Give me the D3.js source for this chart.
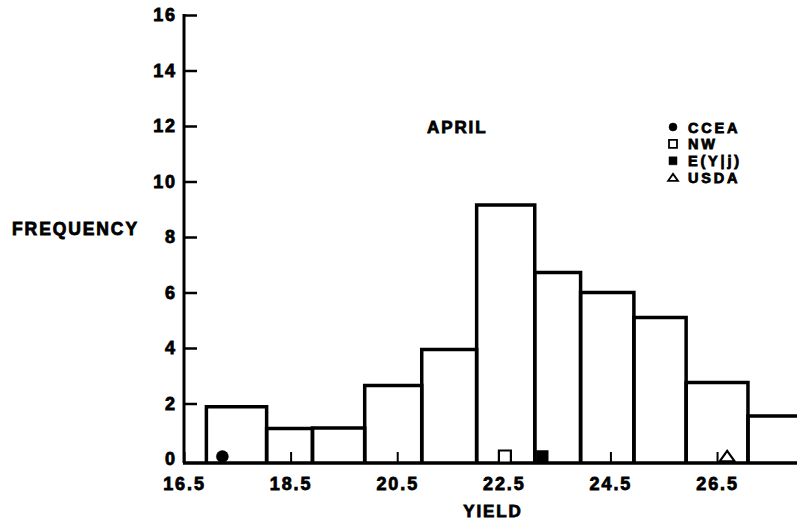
<!DOCTYPE html>
<html>
<head>
<meta charset="utf-8">
<script src="https://cdn.jsdelivr.net/npm/d3@7"></script>
<style>
  body { margin: 0; background: #fff; }
  svg text {
    font-family: 'Liberation Sans', Arial, Helvetica, sans-serif;
    font-weight: bold;
    letter-spacing: 1.9px;
    fill: #000;
    stroke: #000;
    stroke-width: 0.8px;
  }
  svg .row text { letter-spacing: 2.8px; }
</style>
</head>
<body>
<svg id="chart"></svg>
<script>
// histogram of yield (bin edges are uneven in the original figure)
const binEdges = [16.92, 18.05, 18.91, 19.89, 20.96, 21.99, 23.08, 23.94, 24.94, 25.92, 27.08, 28.2];
const frequencies = [1.88, 1.1, 1.12, 2.65, 3.95, 9.15, 6.72, 6.0, 5.1, 2.76, 1.55];

const xTicks = [16.5, 18.5, 20.5, 22.5, 24.5, 26.5];
const yTicks = [0, 2, 4, 6, 8, 10, 12, 14, 16];

// point estimates marked along the baseline
const estimateNames = ['CCEA', 'NW', 'E(Y|j)', 'USDA'];
const estimateValues = [17.22, 22.52, 23.22, 26.69];
const estimateSymbols = ['dot', 'box', 'block', 'triangle'];

const config = {
    containerWidth: 797,
    containerHeight: 525,
    margin: {top: 15, right: 0, bottom: 66, left: 184}
};

const svg = d3.select('#chart')
    .attr('width', config.containerWidth)
    .attr('height', config.containerHeight);

const x = d3.scaleLinear()
    .domain([16.5, 28])
    .range([config.margin.left, config.containerWidth - config.margin.right]);

const y = d3.scaleLinear()
    .domain([0, 16])
    .range([config.containerHeight - config.margin.bottom, config.margin.top]);

// the drawn baseline sits a little under the zero tick, like the original
const baseY = y(0) + 4;

// symbol paths, centred on 0,0
function symbolPath(kind, s) {
    if (kind === 'dot') return d3.symbol(d3.symbolCircle, Math.PI * s * s / 4)();
    if (kind === 'triangle') {
        return `M${-s / 2},${s * 0.32}L0,${-s * 0.38}L${s / 2},${s * 0.32}Z`;
    }
    return `M${-s / 2},${-s / 2}h${s}v${s}h${-s}Z`;
}

function symbolStyle(sel, kind) {
    const open = kind === 'box' || kind === 'triangle';
    sel.attr('fill', open ? '#fff' : '#000')
        .attr('stroke', '#000')
        .attr('stroke-width', open ? 2.2 : 0.5);
}

// bars
const bins = frequencies.map((f, i) => ({x0: binEdges[i], x1: binEdges[i + 1], f: f}));

svg.append('g')
    .selectAll('.bar')
    .data(bins)
    .join('path')
    .attr('class', 'bar')
    .attr('d', d => `M${x(d.x0)},${baseY}V${y(d.f)}H${x(d.x1)}V${baseY}`)
    .attr('fill', 'none')
    .attr('stroke', '#000')
    .attr('stroke-width', 3.5);

// y axis
const yAxisG = svg.append('g')
    .attr('transform', `translate(${x(16.5)},0)`)
    .call(d3.axisLeft(y).tickValues(yTicks).tickSize(-13).tickPadding(7))
    .call(g => g.select('.domain').remove())
    .call(g => g.selectAll('.tick line').filter(d => d === 0).remove());

yAxisG.selectAll('.tick line').attr('stroke', '#000').attr('stroke-width', 2.5);
yAxisG.selectAll('.tick text').style('font-size', '18px');

svg.append('line')
    .attr('x1', x(16.5)).attr('x2', x(16.5))
    .attr('y1', y(16) - 1).attr('y2', baseY)
    .attr('stroke', '#000')
    .attr('stroke-width', 3);

// x axis
const xAxisG = svg.append('g')
    .attr('transform', `translate(0,${baseY})`)
    .call(d3.axisBottom(x).tickValues(xTicks).tickSize(-11).tickPadding(14).tickFormat(d3.format('.1f')))
    .call(g => g.select('.domain').remove());

xAxisG.selectAll('.tick line').attr('stroke', '#000').attr('stroke-width', 2);
xAxisG.selectAll('.tick text').style('font-size', '18px');

svg.append('line')
    .attr('x1', x(16.5) - 1).attr('x2', config.containerWidth)
    .attr('y1', baseY).attr('y2', baseY)
    .attr('stroke', '#000')
    .attr('stroke-width', 3.5);

// estimate markers on the baseline
svg.append('g')
    .selectAll('.marker')
    .data(estimateValues)
    .join('path')
    .attr('class', 'marker')
    .attr('transform', d => `translate(${x(d)},${baseY - 6.5})`)
    .attr('d', (d, i) => symbolPath(estimateSymbols[i], estimateSymbols[i] === 'triangle' ? 15 : 12))
    .each(function (d, i) { symbolStyle(d3.select(this), estimateSymbols[i]); });

// legend
const legend = svg.append('g')
    .attr('transform', 'translate(673,127)');

const rows = legend.selectAll('.row')
    .data(estimateNames)
    .join('g')
    .attr('class', 'row')
    .attr('transform', (d, i) => `translate(0,${i * 16.9})`);

rows.append('path')
    .attr('d', (d, i) => symbolPath(estimateSymbols[i], estimateSymbols[i] === 'triangle' ? 10 : 8))
    .each(function (d, i) { symbolStyle(d3.select(this), estimateSymbols[i]); })
    .attr('stroke-width', (d, i) => (estimateSymbols[i] === 'box' || estimateSymbols[i] === 'triangle') ? 1.8 : 0.5);

rows.append('text')
    .attr('x', 15)
    .attr('y', 5.5)
    .style('font-size', '14.5px')
    .text(d => d);

// titles
svg.append('text')
    .attr('x', 427)
    .attr('y', 133)
    .style('font-size', '17px')
    .text('APRIL');

svg.append('text')
    .attr('x', 12)
    .attr('y', 235)
    .style('font-size', '17.5px')
    .text('FREQUENCY');

svg.append('text')
    .attr('x', 493)
    .attr('y', 517)
    .style('text-anchor', 'middle')
    .style('font-size', '17px')
    .text('YIELD');
</script>
</body>
</html>
